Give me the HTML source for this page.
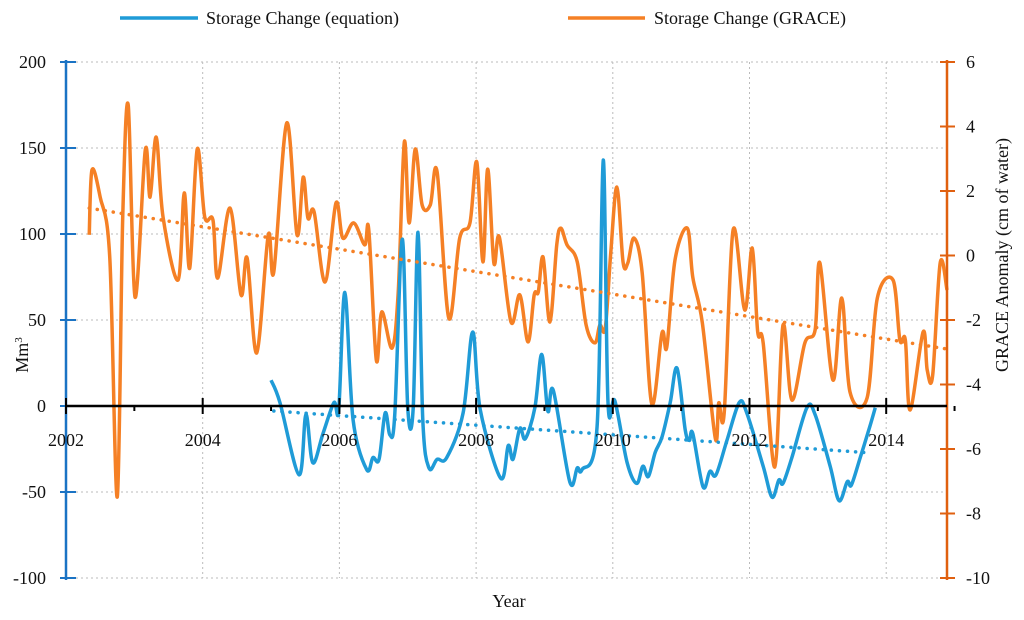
<!DOCTYPE html>
<html><head><meta charset="utf-8"><style>
body{margin:0;background:#fff}
svg text{font-family:"Liberation Serif",serif;font-size:18px;fill:#111}
</style></head><body>
<svg id="c" width="1024" height="615"></svg>
<script>
const blueYears=[2005.00,2005.13,2005.41,2005.51,2005.61,2005.76,2005.92,2005.99,2006.08,2006.20,2006.40,2006.49,2006.58,2006.67,2006.74,2006.81,2006.92,2007.00,2007.08,2007.15,2007.22,2007.31,2007.43,2007.57,2007.81,2007.95,2008.06,2008.36,2008.47,2008.54,2008.64,2008.72,2008.86,2008.96,2009.05,2009.13,2009.37,2009.48,2009.55,2009.77,2009.86,2009.93,2010.03,2010.21,2010.35,2010.44,2010.52,2010.62,2010.72,2010.84,2010.94,2011.06,2011.12,2011.17,2011.32,2011.42,2011.51,2011.67,2011.85,2011.96,2012.20,2012.33,2012.43,2012.49,2012.62,2012.84,2012.96,2013.18,2013.31,2013.43,2013.49,2013.62,2013.76,2013.84];
const blueValues=[15,2,-40,-5,-33,-16,2,-2,66,-8,-37,-30,-31,-4,-17,-5,97,-1,-1,101,-8,-36,-31,-30,-4,43,-2,-42,-23,-31,-13,-19,-1,30,-3,9,-44,-36,-37,-12,143,2,3,-33,-45,-35,-41,-27,-18,2,22,-14,-20,-16,-47,-38,-40,-20,2,-4,-35,-53,-43,-45,-30,-1,-5,-35,-55,-44,-46,-30,-12,-1];
const graceYears=[2002.34,2002.38,2002.50,2002.64,2002.75,2002.83,2002.91,2003.01,2003.16,2003.23,2003.32,2003.42,2003.64,2003.73,2003.81,2003.92,2004.03,2004.15,2004.22,2004.40,2004.56,2004.65,2004.79,2004.96,2005.04,2005.23,2005.38,2005.47,2005.54,2005.63,2005.79,2005.95,2006.05,2006.21,2006.37,2006.43,2006.54,2006.62,2006.77,2006.86,2006.95,2007.02,2007.11,2007.21,2007.33,2007.43,2007.60,2007.76,2007.91,2008.01,2008.10,2008.17,2008.26,2008.34,2008.51,2008.64,2008.76,2008.85,2008.91,2008.98,2009.08,2009.18,2009.24,2009.33,2009.48,2009.61,2009.74,2009.81,2009.89,2009.97,2010.06,2010.15,2010.22,2010.31,2010.43,2010.57,2010.72,2010.79,2010.91,2011.09,2011.17,2011.31,2011.50,2011.55,2011.63,2011.76,2011.93,2012.04,2012.12,2012.20,2012.37,2012.49,2012.62,2012.81,2012.96,2013.03,2013.22,2013.35,2013.47,2013.72,2013.87,2014.10,2014.20,2014.28,2014.35,2014.54,2014.60,2014.68,2014.79,2014.89];
const graceValues=[0.64,2.65,1.81,-0.05,-7.49,1.19,4.67,-1.29,3.27,1.81,3.67,1.19,-0.76,1.94,-0.39,3.30,1.19,1.10,-0.70,1.47,-1.22,-0.08,-3.02,0.64,-0.51,4.11,0.64,2.43,1.16,1.35,-0.82,1.63,0.54,1.01,0.33,0.79,-3.24,-1.75,-2.87,-1.16,3.52,1.01,3.30,1.57,1.57,2.59,-1.94,0.54,1.01,2.90,-0.20,2.68,-0.23,0.57,-2.06,-1.22,-2.68,-1.22,-1.13,-0.05,-2.06,0.33,0.85,0.33,-0.20,-2.16,-2.71,-2.16,-2.25,0.08,2.12,-0.20,-0.23,0.54,-0.54,-4.60,-2.40,-2.84,-0.14,0.85,-0.67,-2.09,-5.67,-4.57,-4.88,0.79,-1.69,0.23,-2.37,-2.71,-6.56,-2.16,-4.48,-2.71,-2.31,-0.23,-3.86,-1.32,-4.23,-4.42,-1.32,-0.76,-2.62,-2.62,-4.79,-2.37,-3.55,-3.71,-0.23,-1.07];
const blueTrendYears=[2005.04,2013.78];
const blueTrendValues=[-2.9,-27.3];
const graceTrendYears=[2002.34,2014.89];
const graceTrendValues=[1.47,-2.90];
const leftTicks=[200,150,100,50,0,-50,-100];
const rightTicks=[6,4,2,0,-2,-4,-6,-8,-10];
const yearTicks=[2002,2004,2006,2008,2010,2012,2014];

const NS="http://www.w3.org/2000/svg",svg=document.getElementById('c');
const X=y=>66+(y-2002)*68.35, YL=v=>406-v*1.72, YR=v=>255.5-v*32.25;
function el(t,a,p){const e=document.createElementNS(NS,t);for(const k in a)e.setAttribute(k,a[k]);(p||svg).appendChild(e);return e;}
function tx(s,a){const e=el('text',a);e.textContent=s;return e;}
for(const v of leftTicks){if(v===0)continue;const g=el('line',{x1:66,x2:947,y1:YL(v),y2:YL(v),stroke:'#bbb','stroke-dasharray':'2,3'});
}
for(const y of yearTicks){if(y===2002)continue;const g=el('line',{x1:X(y),x2:X(y),y1:62,y2:578,stroke:'#bbb','stroke-dasharray':'2,3'});
}
function smooth(pts){let d='M'+pts[0][0]+','+pts[0][1];for(let i=0;i<pts.length-1;i++){const p0=pts[i-1]||pts[i],p1=pts[i],p2=pts[i+1],p3=pts[i+2]||p2;
d+=` C${p1[0]+(p2[0]-p0[0])/6},${p1[1]+(p2[1]-p0[1])/6} ${p2[0]-(p3[0]-p1[0])/6},${p2[1]-(p3[1]-p1[1])/6} ${p2[0]},${p2[1]}`;}return d;}
const gp=el('path',{d:smooth(graceYears.map((y,i)=>[X(y),YR(graceValues[i])])),fill:'none',stroke:'#f58025','stroke-width':3.5,'stroke-linejoin':'round'});

const bp=el('path',{d:smooth(blueYears.map((y,i)=>[X(y),YL(blueValues[i])])),fill:'none',stroke:'#1f9bd7','stroke-width':3.5,'stroke-linejoin':'round'});

const gt=el('line',{x1:X(graceTrendYears[0]),y1:YR(graceTrendValues[0]),x2:X(graceTrendYears[1]),y2:YR(graceTrendValues[1]),stroke:'#f58025','stroke-width':3.5,'stroke-dasharray':'0.1,8','stroke-linecap':'round'});

const bt=el('line',{x1:X(blueTrendYears[0]),y1:YL(blueTrendValues[0]),x2:X(blueTrendYears[1]),y2:YL(blueTrendValues[1]),stroke:'#1f9bd7','stroke-width':3.5,'stroke-dasharray':'0.1,8','stroke-linecap':'round'});

let a=el('line',{x1:66,x2:66,y1:60,y2:580,stroke:'#1a73c4','stroke-width':2.5});
for(const v of leftTicks){el('line',{x1:60,x2:76,y1:YL(v),y2:YL(v),stroke:'#1a73c4','stroke-width':2});
const t=tx(v,{x:46,y:YL(v)+6,'text-anchor':'end'});}
a=el('line',{x1:947,x2:947,y1:60,y2:580,stroke:'#e0600f','stroke-width':2.5});
for(const v of rightTicks){el('line',{x1:940,x2:955,y1:YR(v),y2:YR(v),stroke:'#e0600f','stroke-width':2});
const t=tx(v,{x:966,y:YR(v)+6});}
a=el('line',{x1:66,x2:947,y1:406,y2:406,stroke:'#000','stroke-width':2.5});
for(let y=2002;y<=2015;y++){const maj=(y%2===0);el('line',{x1:X(y),x2:X(y),y1:maj?398:406,y2:maj?414:411,stroke:'#000','stroke-width':2});}
for(const y of yearTicks){const t=tx(y,{x:X(y),y:446,'text-anchor':'middle'});}
</script>
<svg width="1024" height="615" style="position:absolute;left:0;top:0">
<text x="28" y="355" transform="rotate(-90 28 355)" text-anchor="middle">Mm<tspan dy="-6" font-size="11">3</tspan></text>
<text x="1008" y="255" transform="rotate(-90 1008 255)" text-anchor="middle">GRACE Anomaly (cm of water)</text>
<text x="509" y="607" text-anchor="middle">Year</text>
<g><line x1="120" x2="198" y1="18" y2="18" stroke="#1f9bd7" stroke-width="3.5"/><text x="206" y="24">Storage Change (equation)</text></g>
<g><line x1="568" x2="645" y1="18" y2="18" stroke="#f58025" stroke-width="3.5"/><text x="654" y="24">Storage Change (GRACE)</text></g>
</svg>
</body></html>
